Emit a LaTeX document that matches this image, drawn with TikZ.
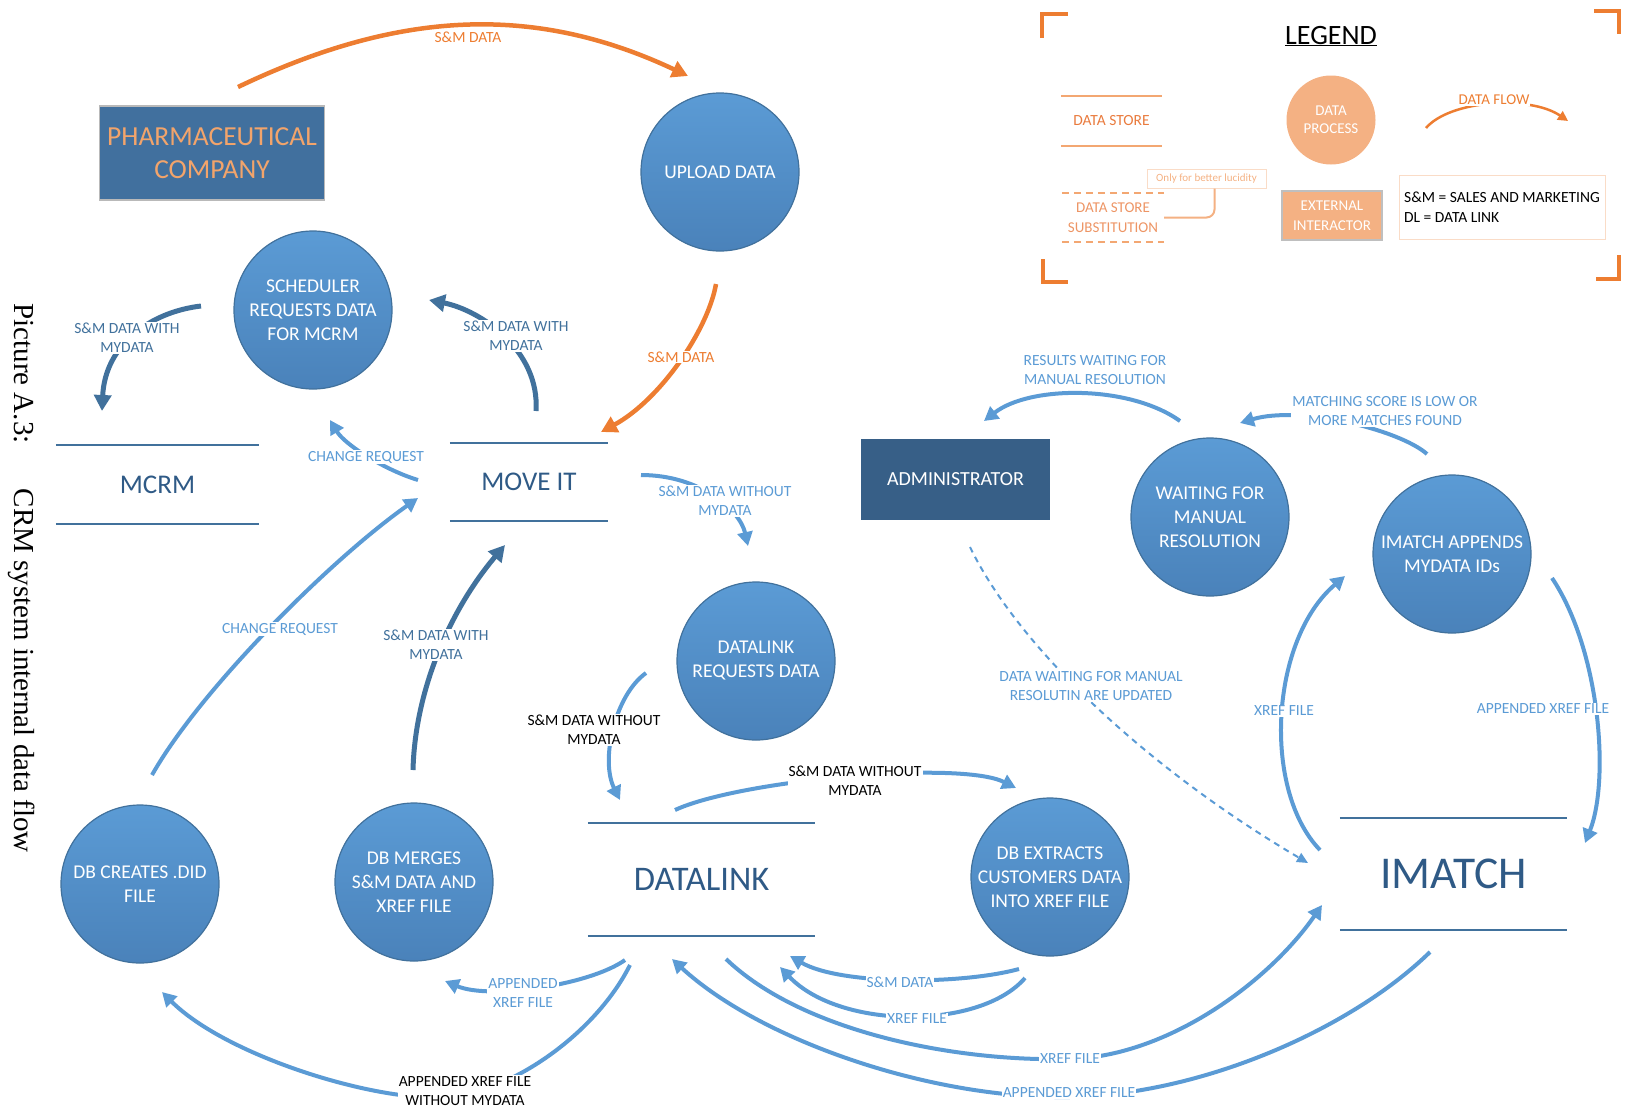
\documentclass[tikz,border=0pt]{standalone}
\usepackage{fontspec}
\setmainfont{Carlito}
\newfontfamily\capfont{Liberation Serif}
\usetikzlibrary{arrows.meta}

\definecolor{lblue}{HTML}{5B9BD5}
\definecolor{dblue}{HTML}{41719C}
\definecolor{procbot}{HTML}{4A82BA}
\definecolor{storeblue}{HTML}{2F5A86}
\definecolor{boxblue}{HTML}{41709E}
\definecolor{adminblue}{HTML}{375F87}
\definecolor{orng}{HTML}{ED7D31}
\definecolor{lorng}{HTML}{F4B183}
\definecolor{legorng}{HTML}{E97B3E}
\definecolor{pharmatext}{HTML}{F2A46B}

\tikzset{
  proc/.style={circle, draw=dblue, line width=1.2pt, top color=lblue, bottom color=procbot,
    minimum size=158pt, inner sep=0pt, text=white, align=center, font=\fontsize{19.5}{24}\selectfont},
  store/.style={inner sep=0pt, text=storeblue},
  storeline/.style={dblue, line width=2.5pt},
  flow/.style={lblue, line width=4pt, -{Triangle[length=14pt,width=15pt]}},
  dflow/.style={dblue, line width=5pt, -{Triangle[length=16pt,width=17pt]}},
  oflow/.style={orng, line width=4.5pt, -{Triangle[length=16pt,width=17pt]}},
  lbl/.style={fill=white, inner sep=1pt, align=center, text=lblue, font=\fontsize{15.5}{19}\selectfont},
}

\begin{document}
\begin{tikzpicture}[x=1pt, y=-1pt]
\useasboundingbox (0,0) rectangle (1626,1112);

% caption
\node[rotate=-90, anchor=base west, font=\capfont\fontsize{29}{34}\selectfont] (caption) at (14,300)
  {Picture A.3:\hspace{45pt}CRM system internal data flow};

% processes
\node[proc] (upload) at (720,172) {UPLOAD DATA};
\node[proc] (sched) at (313,310) {SCHEDULER\\REQUESTS DATA\\FOR MCRM};
\node[proc] (dlreq) at (756,661) {DATALINK\\REQUESTS DATA};
\node[proc] (dbdid) at (140,884) {DB CREATES .DID\\FILE};
\node[proc] (dbmerge) at (414,882) {DB MERGES\\S\&M DATA AND\\XREF FILE};
\node[proc] (dbext) at (1050,877) {DB EXTRACTS\\CUSTOMERS DATA\\INTO XREF FILE};
\node[proc] (waiting) at (1210,517) {WAITING FOR\\MANUAL\\RESOLUTION};
\node[proc] (imappend) at (1452,554) {IMATCH APPENDS\\MYDATA IDs};

% interactors
\node[draw=gray!55, line width=1.5pt, fill=boxblue, minimum width=225pt, minimum height=94pt,
  text=pharmatext, align=center, font=\fontsize{27.5}{33}\selectfont] (pharma) at (212,153) {PHARMACEUTICAL\\COMPANY};
\node[fill=adminblue, minimum width=189pt, minimum height=81pt, text=white,
  font=\fontsize{20}{24}\selectfont] (admin) at (955.5,479.5) {ADMINISTRATOR};

% stores
\node[store, minimum width=203pt, minimum height=79pt, font=\fontsize{27}{32}\selectfont] (mcrm) at (157.5,484.5) {MCRM};
\node[store, minimum width=158pt, minimum height=78pt, font=\fontsize{27}{32}\selectfont] (moveit) at (529,482) {MOVE IT};
\node[store, minimum width=227pt, minimum height=113pt, font=\fontsize{34.5}{40}\selectfont] (datalink) at (701.5,879.5) {DATALINK};
\node[store, minimum width=227pt, minimum height=112pt, font=\fontsize{45.5}{50}\selectfont] (imatch) at (1453.5,874) {IMATCH};
\foreach \s in {mcrm,moveit,datalink,imatch}
  \draw[storeline] (\s.north west) -- (\s.north east) (\s.south west) -- (\s.south east);

% legend
\draw[orng, line width=4pt] (1042,38) |- (1068,14);
\draw[orng, line width=4pt] (1594,11) -| (1619,34);
\draw[orng, line width=4pt] (1043,259) |- (1068,282);
\draw[orng, line width=4pt] (1619,255) |- (1596,279);
\node[anchor=base, font=\fontsize{28}{32}\selectfont] (legend) at (1331,44) {\underline{LEGEND}};
\node[inner sep=0pt, minimum width=101pt, minimum height=50pt, text=legorng,
  font=\fontsize{15.5}{19}\selectfont] (lstore) at (1111.5,121) {DATA STORE};
\draw[lorng!80!orng, line width=2pt] (lstore.north west) -- (lstore.north east) (lstore.south west) -- (lstore.south east);
\node[inner sep=0pt, minimum width=102pt, minimum height=49pt, text=legorng!80!white, align=center,
  font=\fontsize{15}{20}\selectfont] (lsubst) at (1113,217.5) {DATA STORE\\SUBSTITUTION};
\draw[lorng!80!orng, line width=2pt, dash pattern=on 7pt off 5pt] (lsubst.north west) -- (lsubst.north east) (lsubst.south west) -- (lsubst.south east);
\node[draw=lorng!45, line width=1pt, minimum width=119pt, minimum height=19pt, inner sep=1pt, text=lorng,
  font=\fontsize{11}{13}\selectfont] (lucid) at (1206.5,178.5) {Only for better lucidity};
\draw[lorng, line width=2pt, rounded corners=8pt] ([xshift=8pt]lucid.south) |- (lsubst.east);
\node[circle, fill=lorng, minimum size=89pt, inner sep=0pt, text=white, align=center,
  font=\fontsize{15}{18}\selectfont] (lproc) at (1331,120) {DATA\\PROCESS};
\node[fill=lorng, draw=gray!50, line width=1.5pt, minimum width=100pt, minimum height=49pt, text=white,
  align=center, font=\fontsize{15}{20}\selectfont] (lext) at (1332,215.5) {EXTERNAL\\INTERACTOR};
\node[draw=lorng!45, line width=1pt, minimum width=206pt, minimum height=64pt, inner sep=4pt, align=left,
  font=\fontsize{15.5}{20}\selectfont] (labbr) at (1502,207) {S\&M = SALES AND MARKETING\\DL = DATA LINK};
\coordinate (lflow-s) at (1426,128);
\coordinate (lflow-e) at (1568,121);
\draw[orng, line width=2.5pt, -{Triangle[length=10pt,width=10pt]}] (lflow-s) .. controls (1450,100) and (1530,95) .. (lflow-e);
\node[lbl, text=orng, font=\fontsize{15}{18}\selectfont] (lflowlbl) at (1494,100) {DATA FLOW};

% connector ends
\coordinate (pharma-o) at (238,87);
\coordinate (upload-i) at (688,76);
\coordinate (upload-o) at (716,284);
\coordinate (moveit-i1) at (601,432);
\coordinate (sched-o) at (201,306);
\coordinate (mcrm-i) at (102,411);
\coordinate (moveit-o1) at (536,411);
\coordinate (sched-i1) at (429,300);
\coordinate (moveit-o2) at (418,480);
\coordinate (sched-i2) at (330,420);
\coordinate (dbdid-o) at (152,775);
\coordinate (moveit-i2) at (418,498);
\coordinate (dbmerge-o) at (413,770);
\coordinate (moveit-i3) at (505,545);
\coordinate (moveit-o3) at (641,475);
\coordinate (dlreq-i) at (748,546);
\coordinate (dlreq-o) at (646,673);
\coordinate (datalink-i1) at (620,800);
\coordinate (datalink-o1) at (675,810);
\coordinate (dbext-i) at (1016,788);
\coordinate (datalink-o2) at (625,960);
\coordinate (dbmerge-i) at (445,981);
\coordinate (datalink-o3) at (630,965);
\coordinate (dbdid-i) at (162,992);
\coordinate (dbext-o1) at (1019,969);
\coordinate (datalink-i2) at (790,956);
\coordinate (dbext-o2) at (1025,978);
\coordinate (datalink-i3) at (780,967);
\coordinate (datalink-o4) at (726,959);
\coordinate (imatch-i1) at (1322,905);
\coordinate (imatch-o1) at (1430,952);
\coordinate (datalink-i4) at (672,959);
\coordinate (admin-o) at (970,547);
\coordinate (imatch-i2) at (1308,863);
\coordinate (imatch-o2) at (1320,850);
\coordinate (imappend-i) at (1345,576);
\coordinate (imappend-o1) at (1552,578);
\coordinate (imatch-i3) at (1585,843);
\coordinate (waiting-o) at (1180,421);
\coordinate (admin-i) at (984,421);
\coordinate (imappend-o2) at (1427,454);
\coordinate (waiting-i) at (1240,423);

% orange flows
\draw[oflow] (pharma-o) .. controls (395,12) and (531,2) .. (upload-i);
\node[lbl, fill=none, text=orng] (f1) at (468,37) {S\&M DATA};
\draw[oflow] (upload-o) .. controls (708,330) and (660,400) .. (moveit-i1);
\node[lbl, text=orng] (f2) at (681,357) {S\&M DATA};

% dark blue flows
\draw[dflow] (sched-o) .. controls (150,312) and (105,345) .. (mcrm-i);
\node[lbl, text=dblue] (f3) at (127,338) {S\&M DATA WITH\\MYDATA};
\draw[dflow] (moveit-o1) .. controls (540,350) and (480,310) .. (sched-i1);
\node[lbl, text=dblue] (f4) at (516,336) {S\&M DATA WITH\\MYDATA};
\draw[dflow] (dbmerge-o) .. controls (415,690) and (450,610) .. (moveit-i3);
\node[lbl, text=dblue] (f5) at (436,645) {S\&M DATA WITH\\MYDATA};

% light blue flows
\draw[flow] (moveit-o2) .. controls (385,470) and (345,445) .. (sched-i2);
\node[lbl] (f6) at (366,457) {CHANGE REQUEST};
\draw[flow] (dbdid-o) .. controls (200,690) and (330,560) .. (moveit-i2);
\node[lbl] (f7) at (280,629) {CHANGE REQUEST};
\draw[flow] (moveit-o3) .. controls (700,475) and (740,510) .. (dlreq-i);
\node[lbl] (f8) at (725,501) {S\&M DATA WITHOUT\\MYDATA};
\draw[flow] (dlreq-o) .. controls (615,695) and (600,760) .. (datalink-i1);
\node[lbl, text=black] (f9) at (594,730) {S\&M DATA WITHOUT\\MYDATA};
\draw[flow] (datalink-o1) .. controls (740,780) and (960,760) .. (dbext-i);
\node[lbl, text=black] (f10) at (855,781) {S\&M DATA WITHOUT\\MYDATA};
\draw[flow] (datalink-o2) .. controls (590,985) and (490,1000) .. (dbmerge-i);
\node[lbl] (f11) at (523,993) {APPENDED\\XREF FILE};
\draw[flow] (datalink-o3) .. controls (600,1025) and (530,1080) .. (465,1095)
  .. controls (400,1110) and (230,1060) .. (dbdid-i);
\node[lbl, text=black] (f12) at (465,1091) {APPENDED XREF FILE\\WITHOUT MYDATA};
\draw[flow] (dbext-o1) .. controls (960,985) and (840,985) .. (datalink-i2);
\node[lbl] (f13) at (900,982) {S\&M DATA};
\draw[flow] (dbext-o2) .. controls (980,1030) and (840,1030) .. (datalink-i3);
\node[lbl] (f14) at (917,1019) {XREF FILE};
\draw[flow] (datalink-o4) .. controls (800,1030) and (950,1062) .. (1070,1059)
  .. controls (1170,1056) and (1270,980) .. (imatch-i1);
\node[lbl] (f15) at (1070,1059) {XREF FILE};
\draw[flow] (imatch-o1) .. controls (1350,1030) and (1200,1095) .. (1069,1097)
  .. controls (930,1099) and (760,1040) .. (datalink-i4);
\node[lbl] (f16) at (1069,1093) {APPENDED XREF FILE};
\draw[lblue, line width=2pt, dash pattern=on 6pt off 5pt, -{Triangle[length=11pt,width=10pt]}]
  (admin-o) .. controls (1020,650) and (1150,770) .. (imatch-i2);
\node[lbl] (f17) at (1091,686) {DATA WAITING FOR MANUAL\\RESOLUTIN ARE UPDATED};
\draw[flow] (imatch-o2) .. controls (1262,790) and (1270,640) .. (imappend-i);
\node[lbl] (f18) at (1284,711) {XREF FILE};
\draw[flow] (imappend-o1) .. controls (1600,650) and (1610,780) .. (imatch-i3);
\node[lbl] (f19) at (1543,709) {APPENDED XREF FILE};
\draw[flow] (waiting-o) .. controls (1130,385) and (1030,385) .. (admin-i);
\node[lbl, fill=none] (f20) at (1095,370) {RESULTS WAITING FOR\\MANUAL RESOLUTION};
\draw[flow] (imappend-o2) .. controls (1400,430) and (1300,405) .. (waiting-i);
\node[lbl] (f21) at (1385,411) {MATCHING SCORE IS LOW OR\\MORE MATCHES FOUND};
\end{tikzpicture}
\end{document}
